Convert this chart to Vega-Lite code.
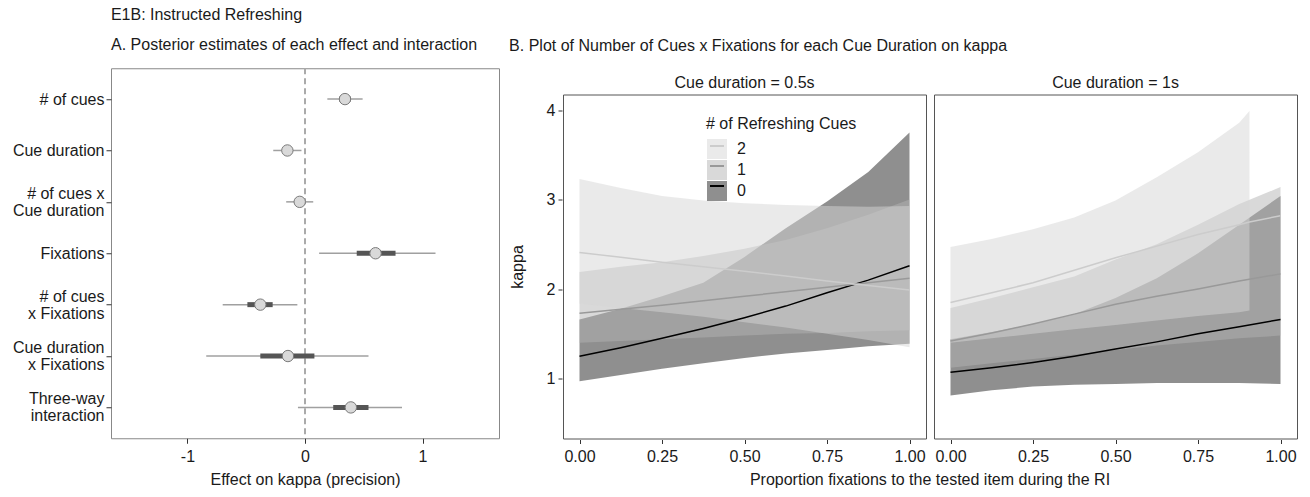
{
  "$schema": "https://vega.github.io/schema/vega-lite/v6.json",
  "background": "white",
  "padding": {"left": 11, "top": 6, "right": 5, "bottom": 5},
  "config": {
    "font": "Liberation Sans",
    "view": {"stroke": "#666"},
    "axis": {"grid": false, "domain": false, "tickColor": "#333", "tickSize": 4, "labelColor": "#1a1a1a", "labelFontSize": 16, "titleFontSize": 16, "titleFontWeight": "normal", "titleColor": "#1a1a1a", "labelPadding": 3},
    "title": {"fontSize": 16, "fontWeight": "normal", "color": "#1a1a1a", "anchor": "start"},
    "header": {"labelFontSize": 16, "labelColor": "#1a1a1a", "labelFont": "Liberation Sans", "titleFont": "Liberation Sans", "titleFontSize": 16, "titleFontWeight": "normal", "titleColor": "#1a1a1a"},
    "legend": {"labelFontSize": 16, "titleFontSize": 16, "titleFontWeight": "normal", "labelColor": "#1a1a1a", "titleColor": "#1a1a1a", "padding": 0}
  },
  "title": {"text": "E1B: Instructed Refreshing", "anchor": "start", "frame": "bounds", "dx": 99, "offset": 14},
  "datasets": {
    "zero": [{"ref": 0}],
    "forest": [
      {"term": "# of cues", "est": 0.34, "lo95": 0.19, "hi95": 0.49, "lo50": 0.29, "hi50": 0.39},
      {"term": "Cue duration", "est": -0.15, "lo95": -0.27, "hi95": -0.03, "lo50": -0.19, "hi50": -0.11},
      {"term": "# of cues x\nCue duration", "est": -0.045, "lo95": -0.16, "hi95": 0.07, "lo50": -0.08, "hi50": -0.01},
      {"term": "Fixations", "est": 0.6, "lo95": 0.12, "hi95": 1.11, "lo50": 0.44, "hi50": 0.77},
      {"term": "# of cues\nx Fixations", "est": -0.38, "lo95": -0.7, "hi95": -0.065, "lo50": -0.49, "hi50": -0.275},
      {"term": "Cue duration\nx Fixations", "est": -0.145, "lo95": -0.84, "hi95": 0.54, "lo50": -0.38, "hi50": 0.08},
      {"term": "Three-way\ninteraction", "est": 0.39, "lo95": -0.06, "hi95": 0.825, "lo50": 0.24, "hi50": 0.54}
    ],
    "curves": [
      {"dur": "0.5s", "cue": "0", "x": 0, "k": 1.25, "lo": 0.97, "hi": 1.66},
      {"dur": "0.5s", "cue": "0", "x": 0.125, "k": 1.345, "lo": 1.04, "hi": 1.78},
      {"dur": "0.5s", "cue": "0", "x": 0.25, "k": 1.45, "lo": 1.11, "hi": 1.92},
      {"dur": "0.5s", "cue": "0", "x": 0.375, "k": 1.56, "lo": 1.17, "hi": 2.07},
      {"dur": "0.5s", "cue": "0", "x": 0.5, "k": 1.68, "lo": 1.23, "hi": 2.36},
      {"dur": "0.5s", "cue": "0", "x": 0.625, "k": 1.81, "lo": 1.28, "hi": 2.68},
      {"dur": "0.5s", "cue": "0", "x": 0.75, "k": 1.96, "lo": 1.32, "hi": 2.98},
      {"dur": "0.5s", "cue": "0", "x": 0.875, "k": 2.1, "lo": 1.36, "hi": 3.31},
      {"dur": "0.5s", "cue": "0", "x": 1, "k": 2.26, "lo": 1.39, "hi": 3.75},
      {"dur": "0.5s", "cue": "1", "x": 0, "k": 1.73, "lo": 1.4, "hi": 2.19},
      {"dur": "0.5s", "cue": "1", "x": 0.125, "k": 1.775, "lo": 1.42, "hi": 2.25},
      {"dur": "0.5s", "cue": "1", "x": 0.25, "k": 1.82, "lo": 1.44, "hi": 2.3},
      {"dur": "0.5s", "cue": "1", "x": 0.375, "k": 1.87, "lo": 1.46, "hi": 2.37},
      {"dur": "0.5s", "cue": "1", "x": 0.5, "k": 1.92, "lo": 1.48, "hi": 2.45},
      {"dur": "0.5s", "cue": "1", "x": 0.625, "k": 1.97, "lo": 1.5, "hi": 2.55},
      {"dur": "0.5s", "cue": "1", "x": 0.75, "k": 2.02, "lo": 1.51, "hi": 2.68},
      {"dur": "0.5s", "cue": "1", "x": 0.875, "k": 2.07, "lo": 1.53, "hi": 2.83},
      {"dur": "0.5s", "cue": "1", "x": 1, "k": 2.12, "lo": 1.54, "hi": 3.0},
      {"dur": "0.5s", "cue": "2", "x": 0, "k": 2.41, "lo": 1.84, "hi": 3.23},
      {"dur": "0.5s", "cue": "2", "x": 0.125, "k": 2.355, "lo": 1.79, "hi": 3.13},
      {"dur": "0.5s", "cue": "2", "x": 0.25, "k": 2.3, "lo": 1.74, "hi": 3.04},
      {"dur": "0.5s", "cue": "2", "x": 0.375, "k": 2.25, "lo": 1.69, "hi": 2.99},
      {"dur": "0.5s", "cue": "2", "x": 0.5, "k": 2.2, "lo": 1.63, "hi": 2.96},
      {"dur": "0.5s", "cue": "2", "x": 0.625, "k": 2.145, "lo": 1.57, "hi": 2.94},
      {"dur": "0.5s", "cue": "2", "x": 0.75, "k": 2.09, "lo": 1.5, "hi": 2.93},
      {"dur": "0.5s", "cue": "2", "x": 0.875, "k": 2.04, "lo": 1.43, "hi": 2.92},
      {"dur": "0.5s", "cue": "2", "x": 1, "k": 1.99, "lo": 1.35, "hi": 2.93},
      {"dur": "1s", "cue": "0", "x": 0, "k": 1.07, "lo": 0.81, "hi": 1.44},
      {"dur": "1s", "cue": "0", "x": 0.125, "k": 1.12, "lo": 0.87, "hi": 1.52},
      {"dur": "1s", "cue": "0", "x": 0.25, "k": 1.18, "lo": 0.91, "hi": 1.61},
      {"dur": "1s", "cue": "0", "x": 0.375, "k": 1.25, "lo": 0.93, "hi": 1.72},
      {"dur": "1s", "cue": "0", "x": 0.5, "k": 1.33, "lo": 0.94, "hi": 1.9},
      {"dur": "1s", "cue": "0", "x": 0.625, "k": 1.41, "lo": 0.95, "hi": 2.12},
      {"dur": "1s", "cue": "0", "x": 0.75, "k": 1.5, "lo": 0.95, "hi": 2.4},
      {"dur": "1s", "cue": "0", "x": 0.875, "k": 1.58, "lo": 0.95, "hi": 2.72},
      {"dur": "1s", "cue": "0", "x": 1, "k": 1.66, "lo": 0.94, "hi": 3.04},
      {"dur": "1s", "cue": "1", "x": 0, "k": 1.42, "lo": 1.12, "hi": 1.79},
      {"dur": "1s", "cue": "1", "x": 0.125, "k": 1.51, "lo": 1.17, "hi": 1.9},
      {"dur": "1s", "cue": "1", "x": 0.25, "k": 1.61, "lo": 1.22, "hi": 2.02},
      {"dur": "1s", "cue": "1", "x": 0.375, "k": 1.72, "lo": 1.27, "hi": 2.14},
      {"dur": "1s", "cue": "1", "x": 0.5, "k": 1.83, "lo": 1.32, "hi": 2.33},
      {"dur": "1s", "cue": "1", "x": 0.625, "k": 1.92, "lo": 1.37, "hi": 2.5},
      {"dur": "1s", "cue": "1", "x": 0.75, "k": 2.0, "lo": 1.41, "hi": 2.72},
      {"dur": "1s", "cue": "1", "x": 0.875, "k": 2.09, "lo": 1.45, "hi": 2.95},
      {"dur": "1s", "cue": "1", "x": 1, "k": 2.17, "lo": 1.48, "hi": 3.14},
      {"dur": "1s", "cue": "2", "x": 0, "k": 1.85, "lo": 1.4, "hi": 2.47},
      {"dur": "1s", "cue": "2", "x": 0.125, "k": 1.96, "lo": 1.45, "hi": 2.56},
      {"dur": "1s", "cue": "2", "x": 0.25, "k": 2.07, "lo": 1.5, "hi": 2.67},
      {"dur": "1s", "cue": "2", "x": 0.375, "k": 2.21, "lo": 1.55, "hi": 2.8},
      {"dur": "1s", "cue": "2", "x": 0.5, "k": 2.35, "lo": 1.6, "hi": 2.99},
      {"dur": "1s", "cue": "2", "x": 0.625, "k": 2.48, "lo": 1.65, "hi": 3.25},
      {"dur": "1s", "cue": "2", "x": 0.75, "k": 2.61, "lo": 1.7, "hi": 3.53},
      {"dur": "1s", "cue": "2", "x": 0.875, "k": 2.72, "lo": 1.74, "hi": 3.86},
      {"dur": "1s", "cue": "2", "x": 0.906, "k": 2.75, "lo": 1.76, "hi": 3.99},
      {"dur": "1s", "cue": "2", "x": 1, "k": 2.82, "lo": null, "hi": null}
    ]
  },
  "center": true,
  "spacing": 9,
  "hconcat": [
    {
      "title": {"text": "A. Posterior estimates of each effect and interaction", "anchor": "start", "frame": "group", "offset": 14},
      "width": 388,
      "height": 370,
      "view": {"stroke": "#888"},
      "layer": [
        {
          "data": {"name": "zero"},
          "mark": {"type": "rule", "color": "#aaaaaa", "strokeWidth": 2, "strokeDash": [6, 4]},
          "encoding": {
            "x": {"field": "ref", "type": "quantitative", "title": ["Effect on kappa (precision)", " "],
              "scale": {"domain": [-1.65, 1.65], "nice": false, "zero": false},
              "axis": {"values": [-1, 0, 1], "labelExpr": "'' + datum.value", "tickSize": 5, "labelPadding": 5, "titlePadding": 7, "titleLineHeight": 26, "titleBaseline": "top"}}
          }
        },
        {
          "data": {"name": "forest"},
          "mark": {"type": "rule", "color": "#a0a0a0", "strokeWidth": 1.5},
          "encoding": {
            "y": {"field": "term", "type": "nominal", "title": null,
              "scale": {"type": "point", "padding": 0.6, "domain": ["# of cues", "Cue duration", "# of cues x\nCue duration", "Fixations", "# of cues\nx Fixations", "Cue duration\nx Fixations", "Three-way\ninteraction"]},
              "axis": {"labelExpr": "split(datum.label, '\\n')", "labelLineHeight": 17, "tickSize": 5, "labelPadding": 2, "labelAlign": "right", "labelBaseline": "middle", "labelLimit": 200,
                "labelOffset": {"condition": {"test": "indexof(datum.value, '\\n') >= 0", "value": -8.5}, "value": 0}}},
            "x": {"field": "lo95", "type": "quantitative", "title": ["Effect on kappa (precision)", " "]},
            "x2": {"field": "hi95"}
          }
        },
        {
          "data": {"name": "forest"},
          "mark": {"type": "rule", "color": "#555555", "strokeWidth": 5},
          "encoding": {
            "y": {"field": "term", "type": "nominal", "title": null},
            "x": {"field": "lo50", "type": "quantitative", "title": ["Effect on kappa (precision)", " "]},
            "x2": {"field": "hi50"}
          }
        },
        {
          "data": {"name": "forest"},
          "mark": {"type": "point", "filled": true, "fill": "#d9d9d9", "stroke": "#7a7a7a", "strokeWidth": 1, "size": 130, "opacity": 1},
          "encoding": {
            "y": {"field": "term", "type": "nominal", "title": null},
            "x": {"field": "est", "type": "quantitative", "title": ["Effect on kappa (precision)", " "]}
          }
        }
      ]
    },
    {
      "data": {"name": "curves"},
      "title": {"text": "B. Plot of Number of Cues x Fixations for each Cue Duration on kappa", "anchor": "start", "frame": "bounds", "offset": 21},
      "facet": {"column": {"field": "dur", "type": "nominal", "header": {"title": "Proportion fixations to the tested item during the RI", "titleOrient": "bottom", "titlePadding": -3, "labelOrient": "top", "labelExpr": "'Cue duration = ' + datum.value", "labelFontSize": 16, "labelPadding": 3}}},
      "spacing": 6,
      "spec": {
        "width": 363,
        "height": 344,
        "view": {"stroke": "#555"},
        "layer": [
          {
            "mark": {"type": "area", "opacity": 0.5},
            "encoding": {
              "x": {"field": "x", "type": "quantitative", "title": null,
                "scale": {"domain": [-0.05, 1.05], "nice": false, "zero": false},
                "axis": {"values": [0, 0.25, 0.5, 0.75, 1], "format": ".2f", "tickSize": 4, "labelPadding": 5}},
              "y": {"field": "hi", "type": "quantitative", "title": "kappa",
                "scale": {"domain": [0.33, 4.175], "nice": false, "zero": false},
                "axis": {"values": [1, 2, 3, 4], "labelExpr": "'' + datum.value", "tickSize": 4, "labelPadding": 3, "titlePadding": 21}},
              "y2": {"field": "lo"},
              "fill": {"field": "cue", "type": "nominal",
                "scale": {"domain": ["2", "1", "0"], "range": ["#d6d6d6", "#b3b3b3", "#1f1f1f"]},
                "legend": {"title": "# of Refreshing Cues", "orient": "none", "legendX": 595, "legendY": 48, "symbolType": "square", "symbolSize": 400, "symbolStrokeWidth": 0, "symbolOpacity": 0.5, "rowPadding": -1.5, "labelOffset": 9, "titlePadding": 6}}
            }
          },
          {
            "mark": {"type": "line"},
            "encoding": {
              "x": {"field": "x", "type": "quantitative", "title": null},
              "y": {"field": "k", "type": "quantitative", "title": "kappa"},
              "stroke": {"field": "cue", "type": "nominal", "sort": "descending",
                "scale": {"range": ["#cccccc", "#999999", "#000000"]},
                "legend": {"title": "# of Refreshing Cues", "orient": "none", "legendX": 595, "legendY": 48, "symbolType": "stroke", "symbolSize": 196, "symbolStrokeWidth": 2, "symbolOffset": 3, "symbolFillColor": "transparent", "rowPadding": 4, "labelOffset": 9, "titlePadding": 6, "titleOpacity": 0, "labelOpacity": 0}},
              "strokeWidth": {"field": "cue", "type": "ordinal", "scale": {"domain": ["2", "1", "0"], "range": [1.5, 1.5, 2.2]}, "legend": null}
            }
          }
        ]
      }
    }
  ]
}
